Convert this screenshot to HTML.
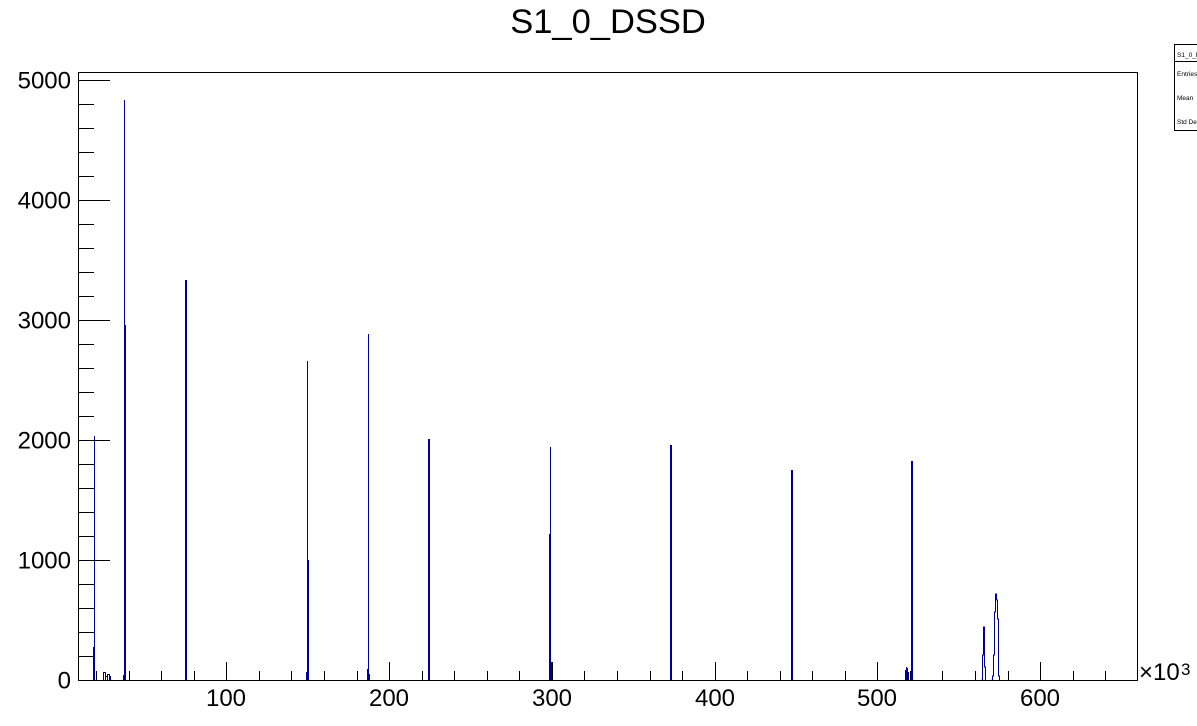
<!DOCTYPE html>
<html><head><meta charset="utf-8"><style>
html,body{margin:0;padding:0;background:#fff;}
svg{display:block;}
text{font-family:"Liberation Sans",Arial,sans-serif;fill:#000;}
</style></head><body>
<svg width="1197" height="726" viewBox="0 0 1197 726" xmlns="http://www.w3.org/2000/svg">
<rect width="1197" height="726" fill="#fff"/>
<!-- title -->
<text x="608" y="33" font-size="34.5" text-anchor="middle">S1_0_DSSD</text>

<!-- histogram peaks -->
<g fill="#000099" stroke="none" shape-rendering="crispEdges">
  <rect x="93" y="647" width="1" height="33"/>
  <rect x="94" y="436" width="1" height="244"/>
  <rect x="103" y="672" width="1" height="8"/>
  <rect x="103" y="672" width="2" height="1"/>
  <rect x="105" y="672" width="1" height="8"/>
  <rect x="106" y="676" width="1" height="1"/>
  <rect x="107" y="674" width="1" height="6"/>
  <rect x="107" y="674" width="2" height="1"/>
  <rect x="109" y="674" width="1" height="6"/>
  <rect x="110" y="676" width="1" height="4"/>
  <rect x="123" y="675" width="1" height="5"/>
  <rect x="124" y="100" width="1" height="580"/>
  <rect x="124" y="325" width="2" height="355"/>
  <rect x="185" y="280" width="2" height="400"/>
  <rect x="306" y="672" width="1" height="8"/>
  <rect x="307" y="361" width="1" height="319"/>
  <rect x="308" y="560" width="1" height="120"/>
  <rect x="367" y="669" width="1" height="11"/>
  <rect x="368" y="334" width="1" height="346"/>
  <rect x="369" y="674" width="1" height="6"/>
  <rect x="428" y="439" width="2" height="241"/>
  <rect x="549" y="534" width="1" height="146"/>
  <rect x="550" y="447" width="1" height="233"/>
  <rect x="551" y="662" width="1" height="18"/>
  <rect x="670" y="445" width="2" height="235"/>
  <rect x="791" y="470" width="2" height="210"/>
  <rect x="905" y="670" width="1" height="10"/>
  <rect x="906" y="667" width="1" height="13"/>
  <rect x="907" y="668" width="1" height="12"/>
  <rect x="908" y="672" width="1" height="8"/>
  <rect x="911" y="461" width="2" height="219"/>
</g>
<g fill="none" stroke="#000099" stroke-width="1">
  <polyline points="981.5,680 982.5,680 982.5,655 983.5,655 983.5,627 984.5,627 984.5,667 985.5,667 985.5,680"/>
  <polyline points="991.5,680 992.5,680 992.5,676 993.5,676 993.5,655 994.5,655 994.5,612 995.5,612 995.5,594 996.5,594 996.5,600 997.5,600 997.5,619 998.5,619 998.5,676 999.5,676 999.5,680"/>
</g>

<!-- frame -->
<g stroke="#000" stroke-width="1" fill="none" shape-rendering="crispEdges">
  <rect x="78.5" y="72.5" width="1059" height="608"/>
  <path d="M78 680.5H110 M78 560.5H110 M78 440.5H110 M78 320.5H110 M78 200.5H110 M78 80.5H110"/>
  <path d="M78 656.5H94 M78 632.5H94 M78 608.5H94 M78 584.5H94
           M78 536.5H94 M78 512.5H94 M78 488.5H94 M78 464.5H94
           M78 416.5H94 M78 392.5H94 M78 368.5H94 M78 344.5H94
           M78 296.5H94 M78 272.5H94 M78 248.5H94 M78 224.5H94
           M78 176.5H94 M78 152.5H94 M78 128.5H94 M78 104.5H94"/>
  <path d="M226.5 680V662 M389.5 680V662 M552.5 680V662 M715.5 680V662 M877.5 680V662 M1040.5 680V662"/>
  <path d="M96.5 680V671 M129.5 680V671 M161.5 680V671 M194.5 680V671
           M259.5 680V671 M291.5 680V671 M324.5 680V671 M357.5 680V671
           M422.5 680V671 M454.5 680V671 M487.5 680V671 M519.5 680V671
           M584.5 680V671 M617.5 680V671 M650.5 680V671 M682.5 680V671
           M747.5 680V671 M780.5 680V671 M812.5 680V671 M845.5 680V671
           M910.5 680V671 M942.5 680V671 M975.5 680V671 M1008.5 680V671
           M1073.5 680V671 M1105.5 680V671"/>
</g>

<!-- y labels -->
<g font-size="24" text-anchor="end">
  <text x="71" y="688.5">0</text>
  <text x="71" y="568.5">1000</text>
  <text x="71" y="448.5">2000</text>
  <text x="71" y="328.5">3000</text>
  <text x="71" y="208.5">4000</text>
  <text x="71" y="88.5">5000</text>
</g>
<!-- x labels -->
<g font-size="24" text-anchor="middle">
  <text x="226" y="706">100</text>
  <text x="389" y="706">200</text>
  <text x="552" y="706">300</text>
  <text x="715" y="706">400</text>
  <text x="877" y="706">500</text>
  <text x="1040" y="706">600</text>
</g>
<text x="1139" y="680" font-size="24">×10</text>
<text x="1181" y="675" font-size="17">3</text>

<!-- stats box -->
<g shape-rendering="crispEdges">
  <rect x="1174.5" y="44.5" width="30" height="86" fill="#fff" stroke="#000" stroke-width="1"/>
  <line x1="1174" y1="61.5" x2="1197" y2="61.5" stroke="#000" stroke-width="1"/>
</g>
<g font-size="6.5">
  <text x="1177" y="57">S1_0_DSSD</text>
  <text x="1177" y="76">Entries</text>
  <text x="1177" y="100">Mean</text>
  <text x="1177" y="124">Std Dev</text>
</g>
</svg>
</body></html>
